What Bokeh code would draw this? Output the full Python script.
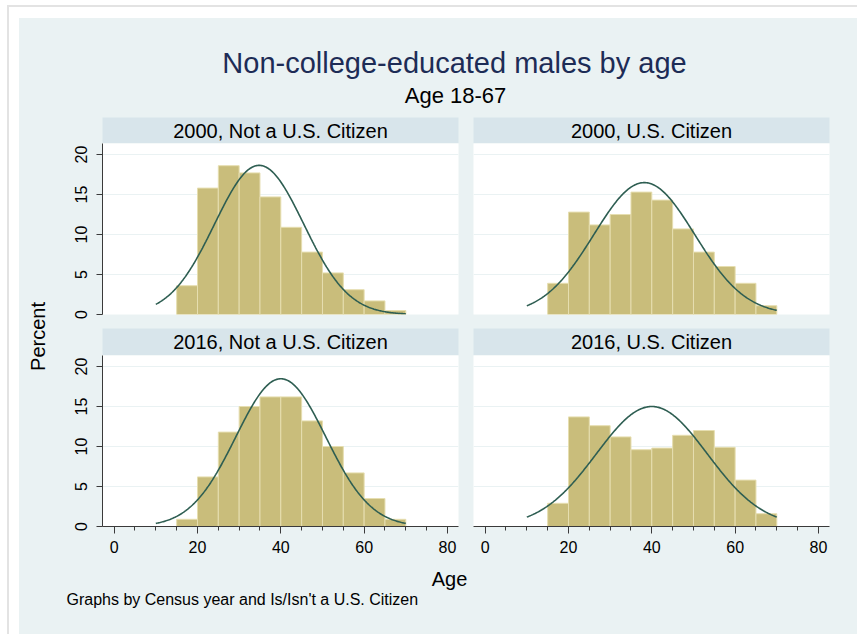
import numpy as np
from bokeh.plotting import figure
from bokeh.layouts import column, row
from bokeh.models import Range1d, FixedTicker
from bokeh.core.properties import value
from bokeh.embed import file_html
from bokeh.resources import INLINE

# ---- data: percent of men in each 5-year age bin ----
bin_left = [15, 20, 25, 30, 35, 40, 45, 50, 55, 60, 65]
bin_width = 5

pct_2000_noncitizen = [3.6, 15.8, 18.6, 17.7, 14.7, 10.9, 7.8, 5.2, 3.1, 1.7, 0.5]
pct_2000_citizen = [3.9, 12.8, 11.2, 12.5, 15.3, 14.3, 10.7, 7.8, 6.0, 3.9, 1.1]
pct_2016_noncitizen = [0.9, 6.2, 11.8, 15.0, 16.2, 16.2, 13.2, 10.0, 6.7, 3.5, 0.9]
pct_2016_citizen = [2.9, 13.7, 12.6, 11.2, 9.6, 9.8, 11.4, 12.0, 9.9, 5.8, 1.6]

# normal fit (mean, sd of age) for each panel
fit_mean = [34.8, 38.2, 40.0, 40.0]
fit_sd = [10.7, 12.1, 10.8, 13.3]
curve_range = (10, 70)

panel_titles = ["2000, Not a U.S. Citizen", "2000, U.S. Citizen",
                "2016, Not a U.S. Citizen", "2016, U.S. Citizen"]
x_ticks = [0, 20, 40, 60, 80]
x_minor = list(range(0, 85, 5))
y_ticks = [0, 5, 10, 15, 20]

# ---- styling ----
FONT = "Liberation Sans"
REGION = "#EAF2F3"
STRIP = "#D8E5EB"
BAR = "#C9BD7B"
BAR_EDGE = "#E6DEB0"
CURVE = "#2E5E52"
TITLE = "#1D2C56"
AXIS = "#3A3A3A"

FW, FH = 356, 171
XR = (-2.8, 82.65)
YR = (0, 21.375)


def blank(w, h):
    p = figure(width=w, height=h, x_range=Range1d(0, w), y_range=Range1d(0, h),
               min_border=0, x_axis_location=None, y_axis_location=None,
               background_fill_color=REGION, border_fill_color=REGION,
               outline_line_color=None, toolbar_location=None, output_backend="svg")
    p.grid.visible = False
    return p


def strip(text, ml, mr, h):
    s = figure(frame_width=FW, frame_height=h, x_range=Range1d(0, 1), y_range=Range1d(0, 1),
               min_border_left=ml, min_border_right=mr, min_border_top=0, min_border_bottom=0,
               x_axis_location=None, y_axis_location=None,
               background_fill_color=STRIP, border_fill_color=REGION,
               outline_line_color=None, toolbar_location=None, output_backend="svg")
    s.grid.visible = False
    s.text(x=[0.5], y=[0.5], text=[text], text_align="center", text_baseline="middle",
           text_font=value(FONT), text_font_size="20px", text_color="black")
    return s


def panel(pcts, mu, sd, show_x, show_y, ml, mr, mb):
    p = figure(frame_width=FW, frame_height=FH, x_range=Range1d(*XR), y_range=Range1d(*YR),
               min_border_left=ml, min_border_right=mr, min_border_top=0, min_border_bottom=mb,
               x_axis_location="below" if show_x else None,
               y_axis_location="left" if show_y else None,
               background_fill_color="white", border_fill_color=REGION,
               outline_line_color=None, toolbar_location=None, output_backend="svg")
    p.xgrid.visible = False
    p.ygrid.ticker = FixedTicker(ticks=y_ticks)
    p.ygrid.grid_line_color = REGION
    p.ygrid.grid_line_width = 1.2

    if show_y:
        ax = p.yaxis[0]
        ax.ticker = FixedTicker(ticks=y_ticks)
        ax.major_label_orientation = "vertical"
        ax.major_tick_out, ax.major_tick_in = 6, 0
        ax.minor_tick_out, ax.minor_tick_in = 0, 0
        ax.axis_line_color = AXIS
        ax.major_tick_line_color = AXIS
        ax.major_label_text_font = FONT
        ax.major_label_text_font_size = "16px"
        ax.major_label_text_color = "black"
        ax.major_label_standoff = 10
    if show_x:
        ax = p.xaxis[0]
        ax.ticker = FixedTicker(ticks=x_ticks, minor_ticks=x_minor)
        ax.major_tick_out, ax.major_tick_in = 7, 0
        ax.minor_tick_out, ax.minor_tick_in = 4, 0
        ax.axis_line_color = AXIS
        ax.major_tick_line_color = AXIS
        ax.minor_tick_line_color = AXIS
        ax.major_label_text_font = FONT
        ax.major_label_text_font_size = "16px"
        ax.major_label_text_color = "black"
        ax.major_label_standoff = 7

    left = np.array(bin_left, dtype=float)
    p.quad(left=left, right=left + bin_width, bottom=0, top=pcts,
           fill_color=BAR, line_color=BAR_EDGE, line_width=1)

    xs = np.linspace(curve_range[0], curve_range[1], 301)
    dens = 100 * bin_width * np.exp(-0.5 * ((xs - mu) / sd) ** 2) / (sd * np.sqrt(2 * np.pi))
    p.line(xs, dens, line_color=CURVE, line_width=1.6)
    return p


# ---- panels ----
L_ML, L_MR = 43, 7
R_ML, R_MR = 8, 28

tl = panel(pct_2000_noncitizen, fit_mean[0], fit_sd[0], False, True, L_ML, L_MR, 14)
tr = panel(pct_2000_citizen, fit_mean[1], fit_sd[1], False, False, R_ML, R_MR, 14)
bl = panel(pct_2016_noncitizen, fit_mean[2], fit_sd[2], True, True, L_ML, L_MR, 34)
br = panel(pct_2016_citizen, fit_mean[3], fit_sd[3], True, False, R_ML, R_MR, 34)

left_col = column(strip(panel_titles[0], L_ML, L_MR, 26), tl,
                  strip(panel_titles[2], L_ML, L_MR, 27), bl, spacing=0,
                  styles={"background-color": REGION})
right_col = column(strip(panel_titles[1], R_ML, R_MR, 26), tr,
                   strip(panel_titles[3], R_ML, R_MR, 27), br, spacing=0,
                   styles={"background-color": REGION})

# ---- y axis title ----
ylab = blank(40, 443)
ylab.text(x=[18], y=[224], text=["Percent"], angle=np.pi / 2, text_align="center",
          text_baseline="middle", text_font=value(FONT), text_font_size="20px",
          text_color="black")

# ---- headings ----
head = blank(838, 99)
head.text(x=[435], y=[55], text=["Non-college-educated males by age"], text_align="center",
          text_baseline="middle", text_font=value(FONT), text_font_size="29px",
          text_color=TITLE)
head.text(x=[436], y=[22], text=["Age 18-67"], text_align="center",
          text_baseline="middle", text_font=value(FONT), text_font_size="22px",
          text_color="black")

# ---- x axis title and note ----
foot = blank(838, 74)
foot.text(x=[430], y=[56], text=["Age"], text_align="center", text_baseline="middle",
          text_font=value(FONT), text_font_size="20px", text_color="black")
foot.text(x=[47], y=[35], text=["Graphs by Census year and Is/Isn't a U.S. Citizen"],
          text_align="left", text_baseline="middle", text_font=value(FONT),
          text_font_size="16px", text_color="black")

mid = row(ylab, left_col, right_col, spacing=0, styles={"background-color": REGION})
graph = column(head, mid, foot, spacing=0, margin=(11, 0, 0, 10),
               styles={"background-color": REGION})
page = column(graph, margin=(5, 0, 0, 7),
              styles={"border-top": "2px solid #E3E3E3", "border-left": "2px solid #E3E3E3"})

open("out.html", "w").write(file_html(page, INLINE))
